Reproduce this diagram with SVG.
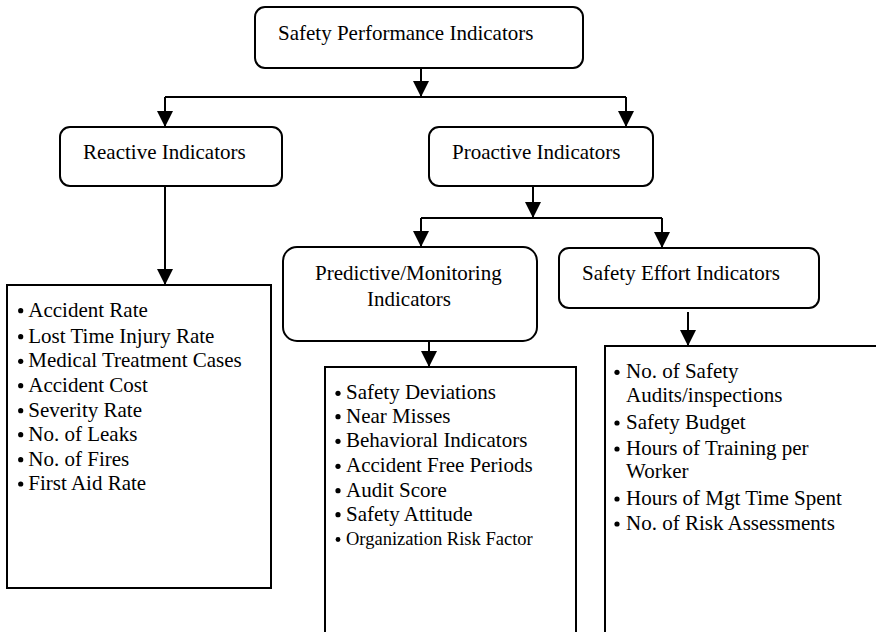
<svg xmlns="http://www.w3.org/2000/svg" width="876" height="632" viewBox="0 0 876 632">
<style>
.bg{fill:#fff}
.box{fill:#fff;stroke:#000;stroke-width:2}
.list{fill:#fff;stroke:#000;stroke-width:2}
.t{font-family:"Liberation Serif","Times New Roman",serif;font-size:21px;fill:#000}
.s{font-size:18.5px}
.b{fill:#000}
.c{fill:none;stroke:#000;stroke-width:2}
</style>
<defs>
<marker id="ah" markerUnits="userSpaceOnUse" markerWidth="16" markerHeight="16" refX="15" refY="7.5" orient="auto" viewBox="0 0 15 15">
<path d="M0,0 L15,7.5 L0,15 z" fill="#000"/>
</marker>
</defs>
<rect class="bg" x="0" y="0" width="876" height="632"/>
<g id="connectors">
<path class="c" d="M421,68 V97" marker-end="url(#ah)"/>
<path class="c" d="M165,97 H626"/>
<path class="c" d="M165,97 V127" marker-end="url(#ah)"/>
<path class="c" d="M626,97 V127" marker-end="url(#ah)"/>
<path class="c" d="M165,186 V285" marker-end="url(#ah)"/>
<path class="c" d="M533,186 V218" marker-end="url(#ah)"/>
<path class="c" d="M421,218 H662"/>
<path class="c" d="M421,218 V247" marker-end="url(#ah)"/>
<path class="c" d="M662,218 V248" marker-end="url(#ah)"/>
<path class="c" d="M429,341 V367" marker-end="url(#ah)"/>
<path class="c" d="M688,312 V346" marker-end="url(#ah)"/>
</g>
<g id="spi">
<rect class="box" x="255" y="7" width="328" height="61" rx="10"/>
<text class="t" x="278" y="40">Safety Performance Indicators</text>
</g>
<g id="reactive">
<rect class="box" x="60" y="127" width="222" height="59" rx="10"/>
<text class="t" x="83" y="159">Reactive Indicators</text>
</g>
<g id="proactive">
<rect class="box" x="429" y="127" width="224" height="59" rx="10"/>
<text class="t" x="452" y="159">Proactive Indicators</text>
</g>
<g id="predictive">
<rect class="box" x="283" y="247" width="254" height="94" rx="14"/>
<text class="t" x="315" y="280">Predictive/Monitoring</text>
<text class="t" x="367" y="306">Indicators</text>
</g>
<g id="effort">
<rect class="box" x="559" y="248" width="260" height="60" rx="10"/>
<text class="t" x="582" y="280">Safety Effort Indicators</text>
</g>
<g id="reactive-list">
<rect class="list" x="7" y="285" width="264" height="303"/>
<g class="b">
<circle cx="20.7" cy="310.7" r="2.6"/>
<circle cx="20.7" cy="336.7" r="2.6"/>
<circle cx="20.7" cy="361.3" r="2.6"/>
<circle cx="20.7" cy="385.7" r="2.6"/>
<circle cx="20.7" cy="410.7" r="2.6"/>
<circle cx="20.7" cy="434.7" r="2.6"/>
<circle cx="20.7" cy="459.7" r="2.6"/>
<circle cx="20.7" cy="484" r="2.6"/>
</g>
<text class="t" x="28.3" y="316.7">Accident Rate</text>
<text class="t" x="28.3" y="342.7">Lost Time Injury Rate</text>
<text class="t" x="28.3" y="367.3">Medical Treatment Cases</text>
<text class="t" x="28.3" y="391.7">Accident Cost</text>
<text class="t" x="28.3" y="416.7">Severity Rate</text>
<text class="t" x="28.3" y="440.7">No. of Leaks</text>
<text class="t" x="28.3" y="465.7">No. of Fires</text>
<text class="t" x="28.3" y="490">First Aid Rate</text>
</g>
<g id="predictive-list">
<rect class="list" x="325" y="367" width="251" height="300"/>
<g class="b">
<circle cx="338" cy="393.3" r="2.6"/>
<circle cx="338" cy="416.7" r="2.6"/>
<circle cx="338" cy="441.3" r="2.6"/>
<circle cx="338" cy="466.3" r="2.6"/>
<circle cx="338" cy="490.7" r="2.6"/>
<circle cx="338" cy="514.7" r="2.6"/>
<circle cx="338" cy="539.5" r="2.4"/>
</g>
<text class="t" x="346" y="399.3">Safety Deviations</text>
<text class="t" x="346" y="422.7">Near Misses</text>
<text class="t" x="346" y="447.3">Behavioral Indicators</text>
<text class="t" x="346" y="472.3">Accident Free Periods</text>
<text class="t" x="346" y="496.7">Audit Score</text>
<text class="t" x="346" y="520.7">Safety Attitude</text>
<text class="t s" x="346" y="545">Organization Risk Factor</text>
</g>
<g id="effort-list">
<rect class="list" x="605" y="346" width="300" height="320"/>
<g class="b">
<circle cx="617" cy="372.3" r="2.6"/>
<circle cx="617" cy="423" r="2.6"/>
<circle cx="617" cy="449" r="2.6"/>
<circle cx="617" cy="499" r="2.6"/>
<circle cx="617" cy="524" r="2.6"/>
</g>
<text class="t" x="626" y="378.3">No. of Safety</text>
<text class="t" x="626" y="401.7">Audits/inspections</text>
<text class="t" x="626" y="429">Safety Budget</text>
<text class="t" x="626" y="455">Hours of Training per</text>
<text class="t" x="626" y="478.3">Worker</text>
<text class="t" x="626" y="505">Hours of Mgt Time Spent</text>
<text class="t" x="626" y="530">No. of Risk Assessments</text>
</g>
</svg>
